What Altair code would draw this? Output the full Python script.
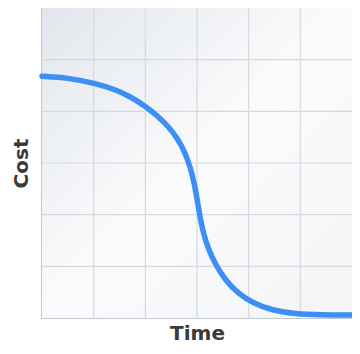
import altair as alt
import pandas as pd

# curve (grid units: 6 x 6)
time = [0, 0.5, 1.0, 1.4, 1.7, 2.0, 2.25, 2.45, 2.62, 2.76, 2.87, 2.95, 3.01, 3.06,
        3.12, 3.22, 3.36, 3.55, 3.80, 4.10, 4.45, 4.90, 5.40, 6.0]
cost = [4.68, 4.65, 4.55, 4.43, 4.29, 4.10, 3.90, 3.70, 3.48, 3.22, 2.92, 2.60, 2.25, 1.95,
        1.65, 1.33, 1.03, 0.73, 0.47, 0.28, 0.15, 0.08, 0.06, 0.06]
grid_x = [1, 2, 3, 4, 5]
grid_y = [1, 2, 3, 4, 5]

W, H = 310, 310
curve = pd.DataFrame({"t": time, "c": cost})
xs = alt.Scale(domain=[0, 6], nice=False, zero=False)
ys = alt.Scale(domain=[0, 6], nice=False, zero=False)

common = dict(labels=False, ticks=False, domain=False, grid=False, titleFontSize=20,
              titleFont="DejaVu Sans", titleFontWeight="bold", titleColor="#3a3a3a")
xaxis = alt.Axis(title="Time", titlePadding=5, **common)
yaxis = alt.Axis(title="Cost", titlePadding=11, **common)

bg = alt.Chart(pd.DataFrame({"a": [0]})).mark_rect(
    color=alt.Gradient(
        gradient="linear", x1=0, y1=0, x2=1, y2=1,
        stops=[alt.GradientStop(offset=0, color="#e2e6ec"),
               alt.GradientStop(offset=0.5, color="#fafbfc"),
               alt.GradientStop(offset=1, color="#f2f4f6")])
).encode(x=alt.value(0), x2=alt.value(W), y=alt.value(0), y2=alt.value(H))

vgrid = alt.Chart(pd.DataFrame({"g": grid_x})).mark_rule(color="#d6d9de", strokeWidth=1.2).encode(
    x=alt.X("g:Q", scale=xs, axis=xaxis))
hgrid = alt.Chart(pd.DataFrame({"g": grid_y})).mark_rule(color="#d6d9de", strokeWidth=1.2).encode(
    y=alt.Y("g:Q", scale=ys, axis=yaxis))

line = alt.Chart(curve).mark_line(color="#3d8ef5", strokeWidth=5.5, interpolate="basis",
                                  strokeCap="round").encode(
    x=alt.X("t:Q", scale=xs, axis=xaxis),
    y=alt.Y("c:Q", scale=ys, axis=yaxis),
)

chart = alt.layer(bg, vgrid, hgrid, line).properties(
    width=W, height=H,
    autosize=alt.AutoSizeParams(type="none"),
    padding={"left": 34, "top": 0, "right": 0, "bottom": 28},
    background="white",
).configure_view(stroke="#c3c7ce", strokeWidth=2)

chart.save("out.html", embed_options={"renderer": "svg", "actions": False})
